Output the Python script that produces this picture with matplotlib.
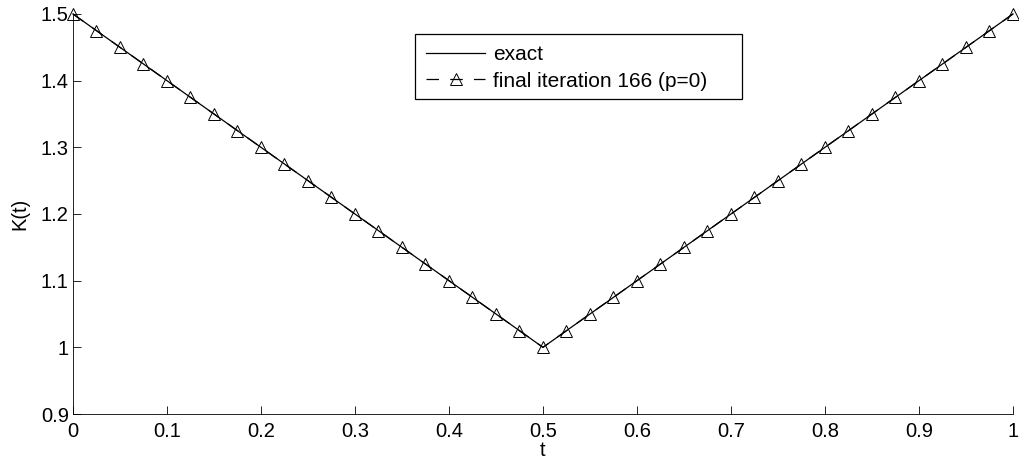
import numpy as np
import matplotlib
matplotlib.use('Agg')
import matplotlib.pyplot as plt
from matplotlib.patches import Rectangle

plt.rcParams['font.family'] = ['Liberation Sans', 'DejaVu Sans']
plt.rcParams['font.size'] = 14.5

# exact solution (piecewise linear)
t_exact = [0.0, 0.5, 1.0]
k_exact = [1.5, 1.0, 1.5]

# final iteration values
t_iter = [0.0, 0.025, 0.05, 0.075, 0.1, 0.125, 0.15, 0.175, 0.2, 0.225,
          0.25, 0.275, 0.3, 0.325, 0.35, 0.375, 0.4, 0.425, 0.45, 0.475,
          0.5, 0.525, 0.55, 0.575, 0.6, 0.625, 0.65, 0.675, 0.7, 0.725,
          0.75, 0.775, 0.8, 0.825, 0.85, 0.875, 0.9, 0.925, 0.95, 0.975, 1.0]
k_iter = [1.5, 1.475, 1.45, 1.425, 1.4, 1.375, 1.35, 1.325, 1.3, 1.275,
          1.25, 1.225, 1.2, 1.175, 1.15, 1.125, 1.1, 1.075, 1.05, 1.025,
          1.0, 1.025, 1.05, 1.075, 1.1, 1.125, 1.15, 1.175, 1.2, 1.225,
          1.25, 1.275, 1.3, 1.325, 1.35, 1.375, 1.4, 1.425, 1.45, 1.475, 1.5]

fig = plt.figure(figsize=(10.19, 4.63), dpi=100)
ax = fig.add_axes([0.0716, 0.1058, 0.9225, 0.864])

ax.plot(t_exact, k_exact, 'k-', lw=0.9, label='exact', clip_on=False)
ax.plot(t_iter, k_iter, 'k--', lw=0.9, marker='^', markersize=9,
        markerfacecolor='none', markeredgecolor='k', markeredgewidth=0.7,
        dashes=(10, 9), label='final iteration 166 (p=0)', clip_on=False)

ax.set_xlim(0, 1)
ax.set_ylim(0.9, 1.5)
ax.set_xticks(np.arange(0, 1.01, 0.1))
ax.set_xticklabels(['0', '0.1', '0.2', '0.3', '0.4', '0.5', '0.6', '0.7', '0.8', '0.9', '1'])
ax.set_yticks([0.9, 1.0, 1.1, 1.2, 1.3, 1.4, 1.5])
ax.set_yticklabels(['0.9', '1', '1.1', '1.2', '1.3', '1.4', '1.5'])
ax.tick_params(direction='in', length=6, width=0.6)
ax.tick_params(axis='x', pad=6)
ax.tick_params(axis='y', pad=3)
ax.spines['top'].set_visible(False)
ax.spines['right'].set_visible(False)
for s in ['left', 'bottom']:
    ax.spines[s].set_linewidth(0.6)
ax.set_xlabel('t', labelpad=0)
ax.set_ylabel('K(t)', labelpad=8)

# legend box drawn separately (MATLAB-style wide frame)
fig.patches.append(Rectangle((415 / 1019, 1 - 99 / 463), 327 / 1019, 65 / 463,
                             transform=fig.transFigure, facecolor='white',
                             edgecolor='k', lw=0.9, zorder=4))
leg = fig.legend(loc='upper left', bbox_to_anchor=(415 / 1019, 1 - 34 / 463),
                 frameon=False, fontsize=15, handlelength=2.8, handletextpad=0.4,
                 borderpad=0.55, borderaxespad=0, labelspacing=0.35)
leg.set_zorder(5)

fig.savefig('out.png', dpi=100)
